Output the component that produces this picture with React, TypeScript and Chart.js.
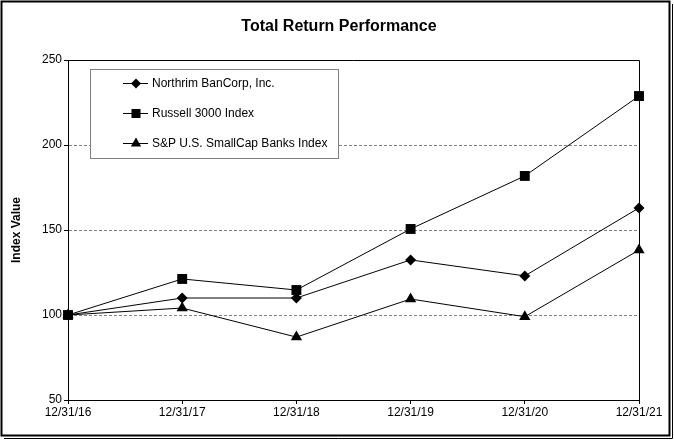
import React, { useEffect, useRef } from "react";
import { Chart, registerables } from "chart.js";

Chart.register(...registerables);

const title = "Total Return Performance";
const yAxisTitle = "Index Value";
const categories = ["12/31/16", "12/31/17", "12/31/18", "12/31/19", "12/31/20", "12/31/21"];
const seriesNames = ["Northrim BanCorp, Inc.", "Russell 3000 Index", "S&P U.S. SmallCap Banks Index"];
const northrim = [100, 110, 110, 132.4, 123, 163];
const russell = [100, 121.2, 114.7, 150.6, 181.8, 228.8];
const smallCap = [100, 104.1, 87, 109.4, 99, 138.2];
const yMin = 50;
const yMax = 250;
const yStep = 50;

const W = 674;
const H = 443;
const FONT = "Arial, 'Liberation Sans', sans-serif";

function drawMarker(ctx: CanvasRenderingContext2D, style: string, x: number, y: number) {
  ctx.beginPath();
  if (style === "rectRot") {
    const r = 5;
    ctx.moveTo(x, y - r);
    ctx.lineTo(x + r, y);
    ctx.lineTo(x, y + r);
    ctx.lineTo(x - r, y);
    ctx.closePath();
  } else if (style === "rect") {
    ctx.rect(x - 4.5, y - 4.5, 9, 9);
  } else {
    const r = 6;
    ctx.moveTo(x, y - r);
    ctx.lineTo(x + r * 0.866, y + r * 0.5);
    ctx.lineTo(x - r * 0.866, y + r * 0.5);
    ctx.closePath();
  }
  ctx.fill();
}

const decorPlugin = {
  id: "decor",
  beforeDraw(chart: any) {
    const ctx = chart.ctx as CanvasRenderingContext2D;
    ctx.save();
    ctx.fillStyle = "#fff";
    ctx.fillRect(0, 0, W, H);
    ctx.restore();
  },
  afterDraw(chart: any) {
    const ctx = chart.ctx as CanvasRenderingContext2D;
    const a = chart.chartArea;
    ctx.save();
    // plot area top and right border
    ctx.strokeStyle = "#000";
    ctx.lineWidth = 1;
    ctx.beginPath();
    ctx.moveTo(a.left, a.top + 0.5);
    ctx.lineTo(a.right + 0.5, a.top + 0.5);
    ctx.lineTo(a.right + 0.5, a.bottom);
    ctx.stroke();

    // outer frame
    ctx.lineWidth = 2;
    ctx.strokeRect(1.5, 1.5, 668, 434);
    ctx.lineWidth = 1;
    ctx.beginPath();
    ctx.moveTo(672.5, 4);
    ctx.lineTo(672.5, 438.5);
    ctx.lineTo(4, 438.5);
    ctx.stroke();

    // title
    ctx.fillStyle = "#000";
    ctx.font = `bold 16px ${FONT}`;
    ctx.textAlign = "center";
    ctx.textBaseline = "middle";
    ctx.fillText(title, 339, 27);

    // legend box
    const lx = 90, ly = 69, lw = 248, lh = 89;
    ctx.fillStyle = "#fff";
    ctx.fillRect(lx, ly, lw, lh);
    ctx.strokeStyle = "#808080";
    ctx.lineWidth = 1;
    ctx.strokeRect(lx + 0.5, ly + 0.5, lw, lh);
    const styles = ["rectRot", "rect", "triangle"];
    seriesNames.forEach((name, i) => {
      const cy = 83 + i * 30;
      ctx.strokeStyle = "#000";
      ctx.beginPath();
      ctx.moveTo(123, cy + 0.5);
      ctx.lineTo(148, cy + 0.5);
      ctx.stroke();
      ctx.fillStyle = "#000";
      drawMarker(ctx, styles[i], 136, cy + 0.5);
      ctx.font = `12px ${FONT}`;
      ctx.textAlign = "left";
      ctx.textBaseline = "middle";
      ctx.fillText(name, 152, cy + 1);
    });
    ctx.restore();
  },
};

export default function App() {
  const ref = useRef<HTMLCanvasElement | null>(null);
  useEffect(() => {
    if (!ref.current) return;
    const common = {
      borderColor: "#000",
      backgroundColor: "#000",
      pointBackgroundColor: "#000",
      pointBorderColor: "#000",
      borderWidth: 1,
      pointBorderWidth: 0,
      tension: 0,
      fill: false,
    };
    const chart = new Chart(ref.current, {
      type: "line",
      data: {
        labels: categories,
        datasets: [
          { ...common, label: seriesNames[0], data: northrim, pointStyle: "rectRot", pointRadius: 5.5 },
          { ...common, label: seriesNames[1], data: russell, pointStyle: "rect", pointRadius: 7 },
          { ...common, label: seriesNames[2], data: smallCap, pointStyle: "triangle", pointRadius: 6.5 },
        ],
      },
      options: {
        animation: false,
        responsive: false,
        devicePixelRatio: 1,
        layout: { padding: { top: 60, right: 35, bottom: 0, left: 0 } },
        plugins: {
          legend: { display: false },
          title: { display: false },
          tooltip: { enabled: false },
        },
        scales: {
          x: {
            type: "category",
            offset: false,
            grid: {
              drawOnChartArea: false,
              drawTicks: true,
              tickLength: 4,
              tickColor: "#000",
            },
            border: { display: true, color: "#000", width: 1 },
            ticks: {
              color: "#000",
              font: { family: FONT, size: 12 },
              padding: 1,
              maxRotation: 0,
              autoSkip: false,
            },
            afterFit(scale: any) {
              scale.height = 43;
            },
          },
          y: {
            min: yMin,
            max: yMax,
            grid: {
              color: (c: any) => {
                const v = c.tick ? c.tick.value : null;
                return v === yMin || v === yMax ? "rgba(0,0,0,0)" : "#808080";
              },
              lineWidth: 1,
              drawTicks: true,
              tickLength: 4,
              tickColor: "#000",
            },
            border: { display: true, color: "#000", width: 1, dash: [3, 2] },
            ticks: {
              stepSize: yStep,
              color: "#000",
              font: { family: FONT, size: 12 },
              padding: 2,
            },
            title: {
              display: true,
              text: yAxisTitle,
              color: "#000",
              font: { family: FONT, size: 12, weight: "bold" },
              padding: { top: 9, bottom: 0 },
            },
            afterFit(scale: any) {
              scale.width = 68;
            },
          },
        },
      } as any,
      plugins: [decorPlugin],
    });
    return () => chart.destroy();
  }, []);
  return (
    <div style={{ position: "fixed", left: 0, top: 0, width: W, height: H, background: "#fff" }}>
      <canvas ref={ref} width={W} height={H} style={{ display: "block", width: W, height: H }} />
    </div>
  );
}
